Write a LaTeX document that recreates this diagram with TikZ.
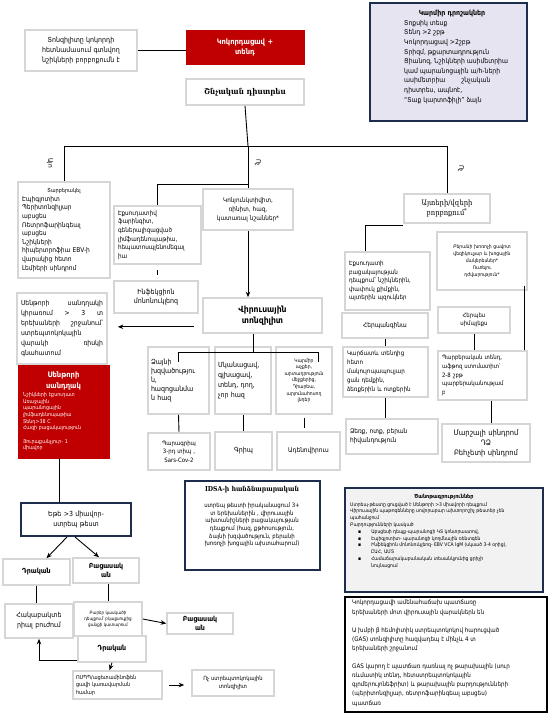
\documentclass[tikz,border=0pt]{standalone}
\usepackage{fontspec}
\setmainfont[FakeStretch=0.9]{DejaVu Sans}
\newfontfamily\serifarm[FakeStretch=0.9]{DejaVu Serif}
\usetikzlibrary{arrows.meta,calc}
\definecolor{redf}{HTML}{C00000}
\definecolor{grayb}{HTML}{D6D6D6}
\definecolor{navy}{HTML}{1F2D4D}
\definecolor{lav}{HTML}{E5E4F0}
\definecolor{notef}{HTML}{F2F2F2}
\hyphenpenalty=10000 \exhyphenpenalty=10000 \tolerance=9999 \emergencystretch=5pt
\newcommand\fs[2]{\fontsize{#1}{#2}\selectfont}
\newcommand\bx[8]{%
 \pgfmathsetmacro\bxw{#4-#2}%
 \pgfmathsetmacro\bxh{#5-#3}%
 \pgfmathsetmacro\bxcx{(#2+#4)/2}%
 \pgfmathsetmacro\bxcy{(#3+#5)/2}%
 \pgfmathsetmacro\bxtw{#4-#2-2*#7}%
 \node[#6, minimum width=\bxw pt, minimum height=\bxh pt, text width=\bxtw pt, inner xsep=#7pt, inner ysep=0.5pt] (#1) at (\bxcx,\bxcy) {#8};}
\begin{document}
\begin{tikzpicture}[x=1pt,y=-1pt,
 ln/.style={draw=black,line width=0.9pt},
 arr/.style={draw=black,line width=0.9pt,-{Stealth[length=5.5pt,width=4.5pt]}},
 gbox/.style={draw=grayb,line width=1.6pt,fill=white},
 lft/.style={align=left},
 ctr/.style={align=center},
 rbox/.style={fill=redf,draw=redf,text=white},
 nbox/.style={draw=navy,line width=2pt,fill=white},
 lbl/.style={font=\fs{6.5}{8}, inner sep=1pt},
]
\useasboundingbox (0,0) rectangle (550,727);
\fill[white] (0,0) rectangle (550,727);

% top
\bx{tl}{25}{30}{137}{71}{gbox,ctr,font=\fs{7}{9.6}}{4}{Տոնզիլիտը կոկորդի\\ հետնամասում գտնվող\\ նշիկների բորբոքումն է}
\bx{red}{186}{30}{304}{64}{rbox,ctr,font=\bfseries\fs{7.5}{10}}{4}{Կոկորդացավ +\\ տենդ}
\bx{dist}{186}{79}{304}{105}{gbox,ctr,font=\serifarm\bfseries\fs{8}{10}}{4}{Շնչական դիստրես}

\bx{flags}{370}{3}{527}{121}{nbox,fill=lav}{4}{}
\node[font=\bfseries\fs{7}{9}] (flagst) at (452,14) {Կարմիր դրոշակներ};
\node[anchor=north west, align=left, font=\fs{6.8}{9.6}, inner sep=0pt] (flagsb) at (404,20) {Տոքսիկ տեսք\\ Տենդ >2 շբթ\\ Կոկորդացավ >2շբթ\\ Տրիզմ, թքարտադրություն\\ Ցիանոզ, Նշիկների ասիմետրիա\\ կամ պարանոցային ա/հ-ների\\ ասիմետրիա\hspace{16pt}շնչական\\ դիստրես, ապնոէ,\\ “Տաք կարտոֆիլի” ձայն};

% branches
\bx{tb}{18}{182}{110}{278}{gbox,lft,font=\fs{6.6}{8.6}}{4}{\makebox[\hsize][c]{\fs{5.5}{8.6}Տարբերակել}\\ Էպիգլոտիտ\\ Պերիտոնզիլյար\\ աբսցես\\ Ռետրոֆարինգեալ\\ աբսցես\\ Նշիկների\\ հիպերտրոֆիա EBV-ի\\ վարակից հետո\\ Լեմիերի սինդրոմ}
\bx{exs}{114}{206}{201}{264}{gbox,lft,font=\fs{6.3}{8.6}}{4}{Էքսուդատիվ\\ ֆարինգիտ,\\ գեներալիզացված\\ լիմֆադենոպաթիա,\\ հեպատոսպլենոմեգալ\\ իա}
\bx{inf}{114}{281}{198}{313}{gbox,ctr,font=\fs{7}{9.5}}{3}{Ինֆեկցիոն\\ մոնոնուկլեոզ}
\bx{kon}{203}{189}{293}{230}{gbox,ctr,font=\fs{6.3}{9}}{3}{Կոնյունկտիվիտ,\\ ռինիտ, հազ,\\ կատառալ նշաններ*}
\bx{vir}{203}{298}{322}{333}{gbox,ctr,font=\bfseries\fs{8.5}{11}}{4}{Վիրուսային\\ տոնզիլիտ}

\bx{centtext}{17}{293}{107}{364}{gbox,align=justify,font=\fs{6.8}{10}}{4}{Սենթորի սանդղակի կիրառում > 3 տ երեխաների շրջանում՝ ստրեպտոկոկային վարակի ռիսկի գնահատում}
\bx{centred}{18}{365}{109}{458}{rbox,lft,font=\fs{5.3}{6.6}}{5}{\makebox[\hsize][c]{\bfseries\fs{7.5}{9}Սենթորի}\\[2pt] \makebox[\hsize][c]{\bfseries\fs{7.5}{9}սանդղակ}\\[2pt] Նշիկների էքսուդատ\\ Առաջային\\ պարանոցային\\ լիմֆադենոպաթիա\\ Տենդ>38 C\\ Հազի բացակայություն\\[7pt] Յուրաքանչյուր- 1\\ միավոր}

\bx{hoarse}{148}{347}{209}{414}{gbox,lft,font=\fs{7}{9}}{3}{Ձայնի\\ խզվածությու\\ ն,\\ հազոցանմա\\ ն հազ}
\bx{myal}{215}{347}{271}{414}{gbox,lft,font=\fs{7}{10}}{3}{Մկանացավ,\\ գլխացավ,\\ տենդ, դող,\\ չոր հազ}
\bx{redeye}{276}{347}{332}{414}{gbox,ctr,font=\fs{5}{6.6}}{2}{Կարմիր\\ աչքեր,\\ արտադրություն\\ մեջքերից,\\ Դիարեա,\\ արյունահոսող\\ լնդեր}
\bx{para}{148}{433}{210}{470}{gbox,ctr,font=\fs{6}{8.5}}{2}{Պարագրիպ\\ 3-րդ տիպ ,\\ Sars-Cov-2}
\bx{flu}{215}{432}{272}{470}{gbox,ctr,font=\fs{7}{9}}{2}{Գրիպ}
\bx{adeno}{277}{432}{340}{470}{gbox,ctr,font=\fs{6.5}{9}}{2}{Ադենովիրուս}

% right column
\bx{ayt}{404}{194}{490}{223}{gbox,ctr,font=\serifarm\fs{7.5}{10}}{3}{Այտերի/վզերի\\ բորբոքում\textsuperscript{*}}
\bx{exn}{345}{252}{430}{310}{gbox,lft,font=\fs{6.2}{8.4}}{4}{Էքսուդատի\\ բացակայության\\ դեպքում՝ նշիկներին,\\ փափուկ քիմքին,\\ այտերին պզուկներ}
\bx{herpang}{342}{313}{428}{338}{gbox,ctr,font=\fs{6.5}{9}}{3}{Հերպանգինա}
\bx{macul}{343}{347}{428}{397}{gbox,lft,font=\fs{6.2}{9}}{4}{Կարճատև տենդից\\ հետո\\ մակուլոպապուլյար\\ ցան դեմքին,\\ ձեռքերին և ոտքերին}
\bx{hfm}{346}{419}{438}{454}{gbox,lft,font=\fs{6.5}{9}}{4}{Ձեռք, ոտք, բերան\\ հիվանդություն}
\bx{oral}{437}{232}{527}{290}{gbox,ctr,font=\fs{5}{7}}{3}{Բերանի խոռոչի ցավոտ\\ վեզիկուլյար և խոցային\\ մակերեսներ*\\ Ուտելու\\ դժվարություն*}
\bx{herpes}{438}{307}{510}{333}{gbox,ctr,font=\fs{6}{8}}{3}{Հերպես\\ սիմպլեքս}
\bx{pfapa}{438}{351}{527}{400}{gbox,lft,font=\fs{6}{8.8}}{4}{Պարբերական տենդ,\\ աֆթոզ ստոմատիտ՝\\ 2-8 շբթ\\ պարբերականությամ\\ բ}
\bx{marsh}{442}{424}{530}{462}{gbox,ctr,font=\fs{7.5}{10}}{3}{Մարշալի սինդրոմ\\ ԴՁ\\ Բեհչետի սինդրոմ}

% lower left
\bx{ete}{21}{503}{131}{536}{nbox,ctr,font=\fs{7}{10}}{4}{Եթե >3 միավոր-\\ ստրեպ թեստ}
\bx{pos1}{3}{559}{70}{585}{gbox,ctr,font=\bfseries\fs{7}{9}}{3}{Դրական}
\bx{neg1}{73}{558}{139}{583}{gbox,ctr,font=\bfseries\fs{7}{9}}{3}{Բացասակ\\ ան}
\bx{anti}{5}{604}{73}{638}{gbox,ctr,font=\fs{7}{10}}{3}{Հակաբակտե\\ րիալ բուժում}
\bx{culture}{74}{602}{142}{636}{gbox,ctr,font=\fs{4.5}{6}}{2}{Բարձր կասկածի\\ դեպքում՝ բկաքսուքից\\ ցանքի կատարում}
\bx{neg2}{167}{613}{233}{634}{gbox,ctr,font=\bfseries\fs{7}{8.5}}{3}{Բացասակ\\ ան}
\bx{pos2}{78}{636}{146}{662}{gbox,ctr,font=\bfseries\fs{7}{9}}{3}{Դրական}
\bx{nsaid}{73}{671}{162}{699}{gbox,lft,font=\fs{5.5}{7.5}}{3}{ՈՍՊՊ/ացետամինոֆեն\\ ցավի կառավարման\\ համար}
\bx{nonstrep}{192}{670}{274}{696}{gbox,ctr,font=\fs{5.8}{8}}{3}{Ոչ ստրեպտոկոկային\\ տոնզիլիտ}

% IDSA
\bx{idsa}{185}{481}{320}{570}{nbox}{4}{}
\node[font=\serifarm\bfseries\fs{6.8}{9}] (idsat) at (252,490) {IDSA-ի հանձնարարական};
\node[anchor=north, align=center, font=\fs{6}{7.6}, inner sep=0pt] (idsab) at (252,503) {ստրեպ թեստի իրականացում 3+\\ տ երեխաներին , վիրուսային\\ ախտանիշների բացակայության\\ դեպքում (հազ, քթհոսություն,\\ ձայնի խզվածություն, բերանի\\ խոռոչի խոցային ախտահարում)};

% notes
\bx{notes}{345}{488}{543}{592}{nbox,fill=notef}{4}{}
\node[font=\bfseries\fs{5.5}{7}] (notest) at (444,497) {Ծանոթագրություններ};
\node[anchor=north west, align=left, font=\fs{5}{6.8}, inner sep=0pt] (notesb) at (350,502) {Ստրեպ-թեստը ցուցված է Սենթորի >3 միավորի դեպքում\\ Վիրուսային պաթոգենները սովորաբար ախտորոշիչ թեստեր չեն\\ պահանջում\\ Բարդությունների կասկած\\ \hspace*{8pt}▪\hspace{10pt}Աբսցեսի դեպք-պարանոցի ԿՏ կոնտրաստով,\\ \hspace*{8pt}▪\hspace{10pt}Էպիգլոտիտ- պարանոցի կողմնային ռենտգեն\\ \hspace*{8pt}▪\hspace{10pt}Ինֆեկցիոն մոնոնուկլեոզ- EBV VCA IgM (սկսած 3-4 օրից),\\ \hspace*{21pt}ԸԱՀ, ԱՄՏ\\ \hspace*{8pt}▪\hspace{10pt}Համաճարակաբանական տեսանկյունից ցրիչի\\ \hspace*{21pt}նույնացում};

% facts
\bx{facts}{345}{597}{547}{712}{gbox,draw=black,line width=2pt}{4}{}
\node[anchor=north west, align=left, font=\fs{6.2}{9.1}, inner sep=0pt] (factsb) at (352,600) {Կոկորդացավի ամենահաճախ պատճառը\\ երեխաների մոտ վիրուսային վարակներն են\\[9.1pt] Ա խմբի β հեմոլիտիկ ստրեպտոկոկով հարուցված\\ (GAS) տոնզիլիտը հազվադեպ է մինչև 4 տ\\ երեխաների շրջանում\\[9.1pt] GAS կարող է պատճառ դառնալ ոչ թարախային (սուր\\ ռևմատիկ տենդ, հետստրեպտոկոկային\\ գլոմերուլոնեֆրիտ) և թարախային բարդությունների\\ (պերիտոնզիլյար, ռետրոֆարինգեալ աբսցես)\\ պատճառ};

% labels
\node[lbl,rotate=-90] (yes) at (50,163) {Այո};
\node[lbl,rotate=-90] (no1) at (258,163) {Ոչ};
\node[lbl,rotate=-90] (no2) at (461,169) {Ոչ};

% connectors top
\draw[ln] (tl.east) -- (tl.east -| red.west);
\coordinate (j1) at (248,146);
\coordinate (j2) at (248,184);
\draw[ln] (dist.south) -- (j1);
\draw[ln] (tb.north |- j1) -- (ayt.north |- j1);
\draw[ln] (tb.north |- j1) -- (tb.north);
\draw[ln] (ayt.north |- j1) -- (ayt.north);
\draw[ln] (j1) -- (kon.north);
\draw[ln] (j2) -| (exs.north);
\draw[arr] (kon.south) -- (kon.south |- vir.north);
\draw[ln, shorten <=5pt, shorten >=5pt] (exs.south) -- (exs.south |- inf.north);
\coordinate (a1) at ($(vir.south west)+(-8,-7)$);
\draw[arr, shorten >=10pt] (a1) -- (a1 -| centtext.east);
% virus branches
\coordinate (h1) at (178,352);
\coordinate (h2) at (318,352);
\coordinate (h3) at (253,352);
\draw[ln] (vir.south -| h3) -- (h3);
\draw[ln] (h1) -- (h2);
\draw[ln] (h1) -- ++(0,10);
\draw[ln] (h2) -- ++(0,10);
\draw[ln] (hoarse.south) -- (para.north);
\draw[ln] (myal.south) -- (myal.south |- flu.north);
\draw[ln, shorten <=3pt, shorten >=3pt] (redeye.south) -- (redeye.south |- adeno.north);
% right column
\coordinate (r1) at ($(ayt.south west)+(0,2)$);
\coordinate (r2) at ($(exn.north west)+(21,0)$);
\draw[ln] (r1) -| (r2);
\draw[ln] (herpang.south -| macul.north) -- (macul.north);
\draw[ln] (macul.south) -- (macul.south |- hfm.north);
\coordinate (o1) at ($(oral.south east)+(-3,-5)$);
\draw[ln] (o1) -- (o1 |- pfapa.north);
\draw[ln] (herpes.south) -- (herpes.south |- pfapa.north);
\coordinate (o2) at ($(pfapa.south)+(9,0)$);
\draw[ln] (o2) -- (o2 |- marsh.north);
% lower left
\coordinate (o3) at ($(centred.south)+(-4,0)$);
\draw[ln] (o3) -- (o3 |- ete.north);
\draw[arr] ($(ete.south)+(-9,0)$) -- ($(pos1.north)+(10,0)$);
\draw[arr] ($(ete.south)+(-1,0)$) -- ($(neg1.north)+(-7,0)$);
\draw[ln] (pos1.south) -- (pos1.south |- anti.north);
\draw[ln] (culture.north |- neg1.south) -- (culture.north);
\draw[arr] (culture.east) -- (neg2.west);
\coordinate (o4) at ($(pos2.south west)+(0,-2)$);
\draw[arr] (o4) -- ($(anti.south)+(0,22)$) -- (anti.south);
\draw[arr] (pos2.south) -- ($(nsaid.north)+(-8,0)$);
\draw[arr, shorten <=6pt, shorten >=7pt] (nsaid.east) -- (nsaid.east -| nonstrep.west);
\end{tikzpicture}
\end{document}
